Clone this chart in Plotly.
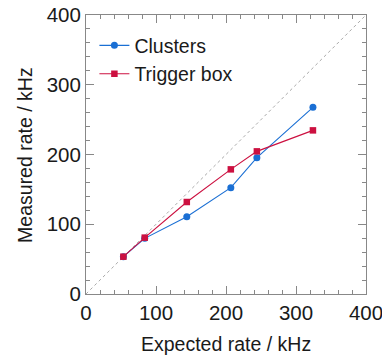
import plotly.graph_objects as go

expected = [53.4, 83.9, 144.0, 206.9, 244.1, 324.2]
clusters = [53.5, 79.8, 110.9, 152.4, 195.5, 267.6]
trigger_box = [53.5, 80.8, 131.9, 178.7, 204.5, 234.6]
diag = [0, 400]

blue = "#1a6fd4"
red = "#cc1040"
txt = "#1a1a1a"

fig = go.Figure()
fig.add_trace(go.Scatter(x=diag, y=diag, mode="lines", showlegend=False,
                         line=dict(color="#aaaaaa", width=1, dash="dot"), hoverinfo="skip"))
fig.add_trace(go.Scatter(x=expected, y=clusters, mode="lines+markers", name="Clusters",
                         line=dict(color=blue, width=1.1),
                         marker=dict(symbol="circle", size=7, color=blue)))
fig.add_trace(go.Scatter(x=expected, y=trigger_box, mode="lines+markers", name="Trigger box",
                         line=dict(color=red, width=1.1),
                         marker=dict(symbol="square", size=6.5, color=red)))

axis_common = dict(range=[0, 400], dtick=100, tick0=0, ticks="inside", ticklen=8,
                   tickcolor="#888888", linecolor="#888888", linewidth=1, mirror="ticks",
                   showline=True, showgrid=False, zeroline=False, automargin=False,
                   ticklabeloverflow="allow",
                   minor=dict(dtick=20, ticks="inside", ticklen=4, tickcolor="#888888"),
                   tickfont=dict(size=20.5, color=txt))

fig.update_xaxes(**axis_common)
fig.update_yaxes(**axis_common)

fig.add_annotation(text="Expected rate / kHz", xref="paper", yref="paper", x=0.5, y=-0.18,
                   xanchor="center", yanchor="middle", showarrow=False,
                   font=dict(size=19.5, color=txt))
fig.add_annotation(text="Measured rate / kHz", xref="paper", yref="paper", x=-0.22, y=0.5,
                   xanchor="center", yanchor="middle", showarrow=False, textangle=-90,
                   font=dict(size=19.5, color=txt))

fig.update_layout(width=382, height=363, margin=dict(l=86, r=16, t=15, b=69),
                  plot_bgcolor="white", paper_bgcolor="white",
                  font=dict(family="Liberation Sans, Arial, sans-serif"),
                  legend=dict(x=0.03, y=0.96, xanchor="left", yanchor="top",
                              bgcolor="rgba(0,0,0,0)", font=dict(size=19.5, color=txt),
                              tracegroupgap=0, itemwidth=30))

fig.write_html("out.html", config={"displayModeBar": False},
               post_script="document.body.style.margin='0';document.body.style.overflow='hidden';")
